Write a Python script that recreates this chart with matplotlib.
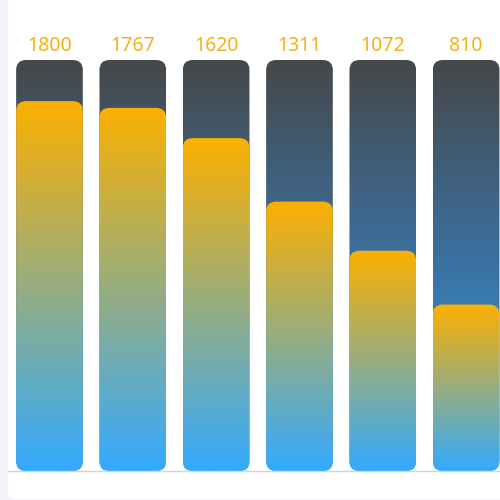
import matplotlib.pyplot as plt
import numpy as np
from matplotlib.patches import FancyBboxPatch
from matplotlib.colors import LinearSegmentedColormap

# data
categories = ['A', 'B', 'C', 'D', 'E', 'F']
values = [1800, 1767, 1620, 1311, 1072, 810]
max_value = 2000

fg_cmap = LinearSegmentedColormap.from_list('fg', ['#33aaff', '#fcb000'])
bg_cmap = LinearSegmentedColormap.from_list('bg', ['#36a0f2', '#3a72a2', '#464849'])

fig = plt.figure(figsize=(5, 5), dpi=100)
fig.patch.set_facecolor('#f3f4f9')

# white rounded panel
panel = FancyBboxPatch((8 / 500, 1 / 500), 1.1, 1.2,
                       boxstyle='round,pad=0,rounding_size=0.016',
                       transform=fig.transFigure, facecolor='white',
                       edgecolor='none', zorder=-5)
fig.patches.append(panel)

ax = fig.add_axes([7.8 / 500, 29 / 500, 500 / 500, 411 / 500])
ax.set_facecolor('none')
ax.set_xlim(-0.5, len(categories) - 0.5)
ax.set_ylim(0, max_value)
ax.axis('off')

width = 0.8
# unit per pixel in each direction
ux = (len(categories)) / 500.0
uy = max_value / 411.0
r = 10 * ux
aspect = uy / ux


def grad_bar(x, h, cmap):
    patch = FancyBboxPatch((x - width / 2, 0), width, h,
                           boxstyle='round,pad=0,rounding_size=%f' % r,
                           mutation_aspect=aspect, facecolor='none',
                           edgecolor='none')
    ax.add_patch(patch)
    grad = np.linspace(0, 1, 256).reshape(-1, 1)
    im = ax.imshow(grad, cmap=cmap, origin='lower', aspect='auto',
                   extent=(x - width / 2, x + width / 2, 0, h),
                   interpolation='bilinear')
    im.set_clip_path(patch)


for i, v in enumerate(values):
    grad_bar(i, max_value, bg_cmap)
    grad_bar(i, v, fg_cmap)
    ax.annotate(str(v), (i, max_value), xytext=(0, 6.5),
                textcoords='offset points', ha='center', va='baseline',
                color='#f5b10f', fontsize=14, family='Noto Sans')

ax.set_xlim(-0.5, len(categories) - 0.5)
ax.set_ylim(0, max_value)

# baseline
fig.add_artist(plt.Line2D([8 / 500, 1], [29 / 500, 29 / 500],
                          transform=fig.transFigure, color='#d4d4d4', lw=1))

fig.savefig('out.png', dpi=100)
